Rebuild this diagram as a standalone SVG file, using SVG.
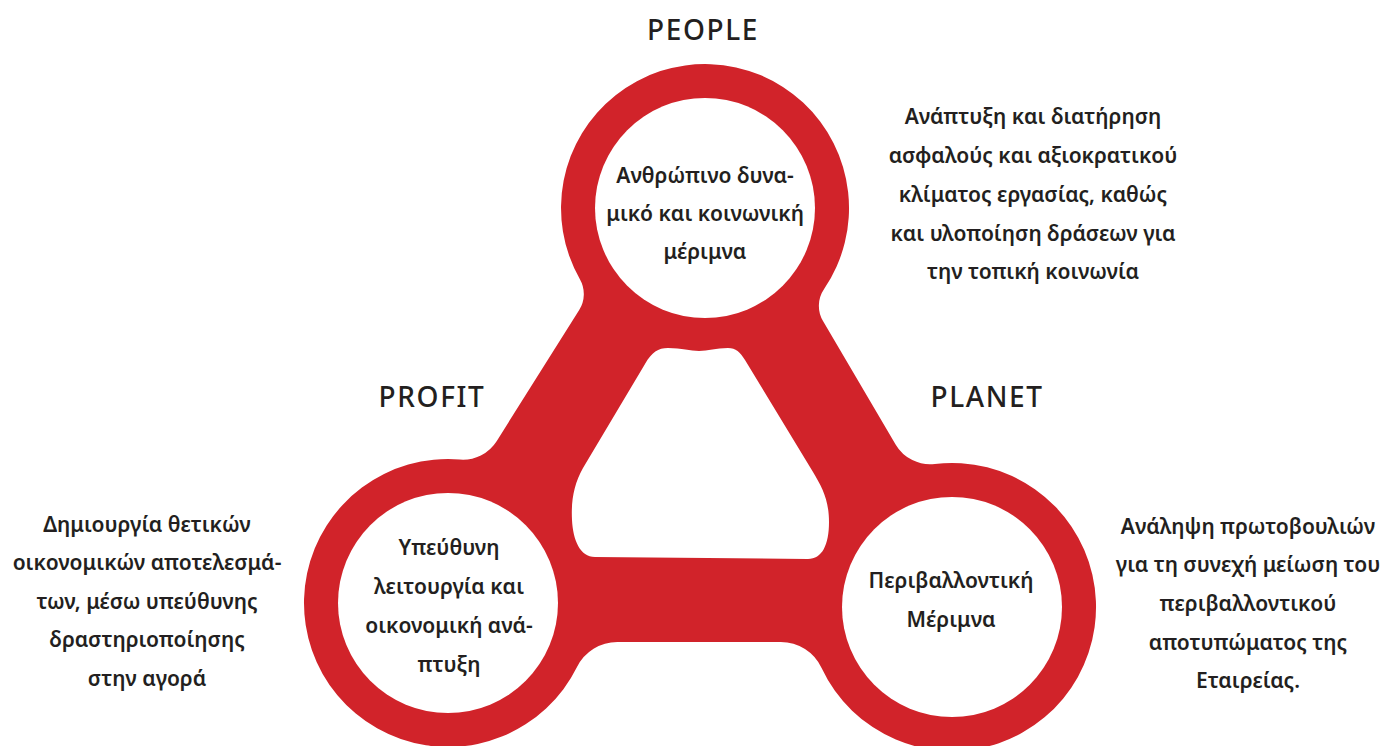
<svg xmlns="http://www.w3.org/2000/svg" width="1389" height="746" viewBox="0 0 1389 746">
<style>
.t{font-family:"Noto Sans","DejaVu Sans",sans-serif;font-weight:600;font-size:21px;fill:#231f20;text-anchor:middle}
.h{font-family:"Noto Sans","DejaVu Sans",sans-serif;font-weight:500;font-size:28px;fill:#231f20;text-anchor:middle;letter-spacing:1.6px}
.red{fill:#d1232a}
.hole{fill:#ffffff}
</style>
<rect width="1389" height="746" fill="#ffffff"/>
<g id="connectors">
<path class="red" d="M579.9,279.3 A144,144 0 1 1 824.1,289.0 A30,30 0 0 0 823.0,321.1 L895.6,444.5 A40,40 0 0 0 934.9,464.0 A144,144 0 1 1 821.6,668.0 A45,45 0 0 0 780.8,642 L617.3,642 A45,45 0 0 0 577.0,667.0 A144,144 0 1 1 459.7,459.5 A40,40 0 0 0 496.8,440.9 L579.2,310.1 A30,30 0 0 0 579.9,279.3 Z"/>
<path class="hole" d="M583,468 L645,364 C652,352 658,348 668,348 C682,348 690,351 699,351 C708,351 716,348 728,348 C736,348 740,352 745,360 L813,472 C822,487 829,500 829,522 C829,545 822,559 808,559 L595,557 C580,557 573,540 572,520 C571,500 574,484 583,468 Z"/>
</g>
<g id="people">
<circle cx="705" cy="208" r="110" fill="#fff"/>
<text class="t" x="705" y="183">Ανθρώπινο δυνα-</text>
<text class="t" x="705" y="221">μικό και κοινωνική</text>
<text class="t" x="705" y="259">μέριμνα</text>
</g>
<g id="profit">
<circle cx="448" cy="603" r="110" fill="#fff"/>
<text class="t" x="449" y="555">Υπεύθυνη</text>
<text class="t" x="449" y="594">λειτουργία και</text>
<text class="t" x="449" y="633">οικονομική ανά-</text>
<text class="t" x="449" y="672">πτυξη</text>
</g>
<g id="planet">
<circle cx="952" cy="607" r="110" fill="#fff"/>
<text class="t" x="951" y="588">Περιβαλλοντική</text>
<text class="t" x="951" y="627">Μέριμνα</text>
</g>
<g id="label-people"><text class="h" x="703" y="40">PEOPLE</text></g>
<g id="label-profit"><text class="h" x="432" y="407">PROFIT</text></g>
<g id="label-planet"><text class="h" x="987" y="407">PLANET</text></g>
<g id="desc-people">
<text class="t" x="1033" y="124">Ανάπτυξη και διατήρηση</text>
<text class="t" x="1033" y="163">ασφαλούς και αξιοκρατικού</text>
<text class="t" x="1033" y="202">κλίματος εργασίας, καθώς</text>
<text class="t" x="1033" y="241">και υλοποίηση δράσεων για</text>
<text class="t" x="1033" y="279">την τοπική κοινωνία</text>
</g>
<g id="desc-profit">
<text class="t" x="147" y="532">Δημιουργία θετικών</text>
<text class="t" x="147" y="570">οικονομικών αποτελεσμά-</text>
<text class="t" x="147" y="609">των, μέσω υπεύθυνης</text>
<text class="t" x="147" y="647">δραστηριοποίησης</text>
<text class="t" x="147" y="686">στην αγορά</text>
</g>
<g id="desc-planet">
<text class="t" x="1248" y="534">Ανάληψη πρωτοβουλιών</text>
<text class="t" x="1248" y="572">για τη συνεχή μείωση του</text>
<text class="t" x="1248" y="611">περιβαλλοντικού</text>
<text class="t" x="1248" y="650">αποτυπώματος της</text>
<text class="t" x="1248" y="688">Εταιρείας.</text>
</g>
</svg>
